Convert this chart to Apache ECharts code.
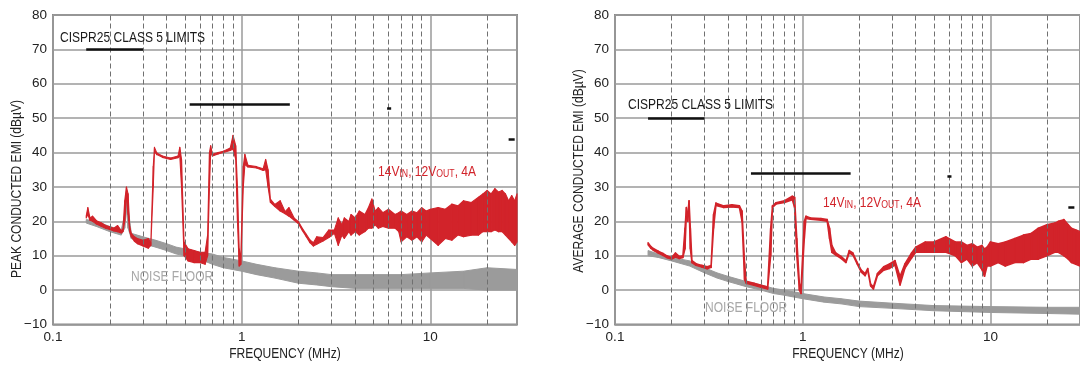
<!DOCTYPE html>
<html>
<head>
<meta charset="utf-8">
<script src="https://cdn.jsdelivr.net/npm/echarts@6/dist/echarts.min.js"></script>
<style>
  html, body { margin: 0; padding: 0; background: #fff; overflow: hidden; }
  #chart { width: 1080px; height: 365px; }
</style>
</head>
<body>
<div id="chart"></div>
<script>
// frequency axis (MHz) minor grid + tick labels
var minorFreqs = [0.2, 0.3, 0.4, 0.5, 0.6, 0.7, 0.8, 0.9, 2, 3, 4, 5, 6, 7, 8, 9, 20];
var yTicks = [-10, 0, 10, 20, 30, 40, 50, 60, 70, 80];

// CISPR25 class 5 limit segments: [fStart, fEnd, level]
var peakLimits = [[0.15, 0.3, 70], [0.53, 1.8, 54], [5.9, 6.2, 53], [26, 28, 44]];
var avgLimits = [[0.15, 0.3, 50], [0.53, 1.8, 34], [5.9, 6.2, 33], [26, 28, 24]];

// peak EMI, 14Vin 12Vout 4A  (low / high edge of the trace)
var peakFreq = [0.15, 0.153, 0.157, 0.162, 0.17, 0.18, 0.19, 0.2, 0.21, 0.22, 0.23, 0.235, 0.24, 0.245, 0.25, 0.255, 0.26, 0.27, 0.28, 0.3, 0.32, 0.33,
  0.34, 0.345, 0.355, 0.38, 0.42, 0.46, 0.47, 0.48, 0.495, 0.52, 0.56, 0.6, 0.64, 0.66, 0.675, 0.685, 0.7, 0.75, 0.8, 0.87, 0.9, 0.93, 0.95, 0.97, 0.99,
  1.02, 1.04, 1.08, 1.2, 1.3, 1.34, 1.38, 1.42, 1.5, 1.6, 1.7, 1.78, 1.9, 2.0, 2.1, 2.2, 2.3, 2.4, 2.5, 2.7, 2.9, 3.1,
  3.25, 3.4, 3.5, 3.7, 3.8, 4.0, 4.2, 4.5, 4.7, 4.9, 5.1, 5.3, 5.6, 6.0, 6.5, 6.8, 7.0, 7.5, 8.0, 8.5, 9.0, 9.5, 10, 11, 12, 13, 14, 15, 16.5,
  18, 19, 20, 21, 22, 23, 24, 25, 26, 27, 28, 28.8];
var peakLo = [21, 22, 20.3, 20, 19.2, 18.6, 18, 17.6, 17.2, 17, 16.6, 17, 20, 27, 22, 17, 15.5, 14.2, 13.5, 12.8, 12.2, 13,
  30, 40.3, 39.4, 38.6, 38, 38.5, 39, 30, 10, 8.5, 8, 8, 7.5, 10, 30, 40, 39, 39.6, 40, 40.6, 41, 38, 20, 7, 7.5,
  30, 36.5, 35.8, 35.5, 34.8, 35, 30, 25.5, 24.3, 23, 22.2, 21.5, 20.3, 19.3, 17.3, 15.5, 13.8, 12.8, 13.3, 14.3, 15.3, 16.5,
  13, 16, 15, 17, 16, 17, 16, 17, 18, 18, 19, 18, 18.5, 18, 18, 17, 14, 15.5, 14.5, 15.5, 14, 16, 15, 13, 15, 14.5, 16, 15.5, 16,
  16, 17, 17, 17, 17.5, 17, 17, 16, 15, 14, 13, 14];
var peakHi = [21.6, 24, 21, 21.5, 20.2, 19.6, 18.8, 18.4, 18, 18.8, 17.3, 17.8, 26, 30, 28, 18.5, 16.5, 15.5, 15, 14.5, 15, 13.8,
  36, 41.5, 39.9, 39, 38.4, 39, 41.5, 38, 14, 12, 11.5, 11, 11, 16, 40, 42, 39.5, 40, 40.4, 41.3, 45, 42, 30, 12, 10,
  36, 39.5, 36.3, 35.9, 35.3, 38, 35, 26.5, 24.9, 26, 22.8, 24, 20.9, 19.9, 17.9, 16.2, 14.6, 13.8, 15.5, 15.3, 17.5, 17.5,
  21, 19, 21, 20, 22, 21, 23, 22, 24, 26.5, 23, 24, 22.5, 23.5, 22, 22.5, 23, 22, 23, 22.5, 24, 23, 23.5, 24, 23.5, 25, 24.5, 26, 25.5,
  27, 28, 29, 28, 29.5, 28.5, 29, 28, 26, 27.5, 26, 28];

// peak noise floor
var peakNoiseFreq = [0.15, 0.17, 0.2, 0.23, 0.24, 0.245, 0.25, 0.26, 0.3, 0.35, 0.4, 0.45, 0.5, 0.6, 0.7, 0.8, 1.0, 1.2, 1.5, 2, 2.5, 3, 4, 5, 7, 10, 15, 20, 28.8];
var peakNoiseLo = [19.5, 18.5, 17, 16, 18, 24, 18, 15, 13.5, 12.5, 11.5, 10.5, 10, 9, 7.5, 6.5, 5.5, 4.5, 3.5, 2, 1.5, 1, 0.5, 0.5, 0.5, 0.5, 0.5, 0, 0];
var peakNoiseHi = [20.5, 20, 18.5, 17.5, 22, 28, 24, 16.5, 15.5, 14.5, 13.5, 12.5, 12, 11, 10.5, 9.5, 8.5, 7.5, 6.5, 5.5, 5, 4.5, 4.5, 4.5, 4.5, 5, 5.5, 6.5, 6];

// average EMI, 14Vin 12Vout 4A
var avgFreq = [0.15, 0.155, 0.16, 0.17, 0.18, 0.19, 0.2, 0.21, 0.22, 0.23, 0.236, 0.24, 0.244, 0.248, 0.252, 0.257, 0.27, 0.29, 0.31, 0.325,
  0.335, 0.345, 0.38, 0.42, 0.46, 0.475, 0.49, 0.5, 0.55, 0.6, 0.65, 0.675, 0.69, 0.72, 0.8, 0.88, 0.905, 0.93, 0.96, 0.98,
  1.02, 1.04, 1.1, 1.25, 1.35, 1.39, 1.43, 1.5, 1.6, 1.7, 1.77, 1.85, 1.95, 2.05, 2.15, 2.22, 2.3, 2.38, 2.5, 2.7, 2.9, 3.1, 3.3, 3.5, 3.8,
  4.0, 4.5, 5, 5.8, 6.5, 7, 7.5, 8, 8.5, 9, 9.3, 9.6, 10, 11, 12, 13.5, 15, 16.5, 18, 20, 22, 23, 24.6, 26, 27, 28.5, 30];
var avgLo = [13.2, 12.2, 11.6, 10.8, 10.1, 9.4, 9, 9.6, 9.2, 9.5, 12, 22, 20, 24, 12, 8, 7.2, 6.7, 6.2, 6.6,
  18, 24.6, 24, 24.2, 24, 20, 3, 2, 1.4, 0.8, 0.3, 10, 24, 25, 25.5, 26.3, 24, 10, 0, -1,
  15, 20.8, 20.6, 20.3, 20, 15, 11, 10.2, 9.2, 8, 10.8, 10.2, 7.6, 5.2, 4.2, 5.7, 1.2, 0.3, 4.2, 5.8, 6.3, 7.3, 1.5, 6.3, 9.3,
  11, 11, 11, 11, 10, 8, 9, 7, 8, 6, 4, 7, 7, 8, 7, 8, 8, 9, 9, 10, 11, 11, 10, 9, 8, 7.5, 7];
var avgHi = [13.8, 12.7, 12.1, 11.3, 10.7, 9.9, 9.5, 10.8, 9.8, 10, 18, 24, 22, 26, 18, 8.6, 7.7, 7.2, 6.8, 7.2,
  22, 25.3, 24.5, 24.8, 24.5, 23, 8, 2.6, 2, 1.4, 0.9, 18, 24.5, 25.4, 26, 27.3, 27, 15, 2, 1,
  20, 21.5, 21, 20.8, 20.5, 18, 13, 10.8, 9.8, 8.5, 11.5, 10.8, 8.1, 5.8, 4.8, 6.3, 1.8, 1, 4.8, 6.8, 7.6, 8.6, 4, 7.6, 10.8,
  12.5, 14, 14, 15.5, 14, 14, 13, 13.5, 12.5, 13, 12, 12.5, 14, 13.5, 14, 15, 16, 16.5, 18, 19, 19.5, 20, 20.5, 19, 18, 17.5, 17];

// average noise floor
var avgNoiseFreq = [0.15, 0.17, 0.2, 0.25, 0.3, 0.35, 0.4, 0.5, 0.6, 0.7, 0.8, 1.0, 1.3, 1.6, 2, 3, 5, 10, 20, 30];
var avgNoiseLo = [10, 9.5, 8.5, 7, 5, 3.5, 2.5, 1, 0, -1, -1.5, -2.5, -3.5, -4, -4.8, -5.3, -6, -6.5, -6.8, -7];
var avgNoiseHi = [11.5, 10.5, 9.5, 8.5, 6.5, 5, 4, 2.5, 1.5, 0.5, 0, -1, -2, -2.5, -3.2, -3.8, -4.5, -4.8, -5, -5];

var RED = '#d2232a';
var GRAY = '#9b9b9b';
var GRID_C = '#9a9a9a';
var FONT = '"Liberation Sans", Arial, sans-serif';
var NARROW_X = 0.83;

// band between lo and hi edges, one quad per segment
function trace(idx, f, lo, hi, color, width) {
  var segs = [];
  for (var i = 0; i < f.length - 1; i++) {
    segs.push([f[i], lo[i], hi[i], f[i + 1], lo[i + 1], hi[i + 1]]);
  }
  return {
    type: 'custom', xAxisIndex: idx, yAxisIndex: idx, z: 3, silent: true,
    data: segs,
    encode: { x: [0, 3], y: [1, 2, 4, 5] },
    renderItem: function (params, api) {
      var a = api.coord([api.value(0), api.value(1)]);
      var b = api.coord([api.value(0), api.value(2)]);
      var c = api.coord([api.value(3), api.value(5)]);
      var d = api.coord([api.value(3), api.value(4)]);
      return {
        type: 'polygon',
        shape: { points: [a, b, c, d] },
        style: { fill: color, stroke: color, lineWidth: width, lineJoin: 'round' }
      };
    }
  };
}

function guides(idx, limits) {
  return {
    type: 'line', xAxisIndex: idx, yAxisIndex: idx, z: 1, silent: true,
    data: [[1, -50]], symbol: 'none', lineStyle: { opacity: 0 },
    markLine: {
      silent: true, symbol: 'none', animation: false,
      label: { show: false },
      data: minorFreqs.map(function (v) {
        return { xAxis: v, lineStyle: { color: '#707070', width: 1, type: [5, 3] } };
      }).concat(limits.map(function (s) {
        return [{ coord: [s[0], s[2]], lineStyle: { color: '#111', width: 2.5, type: 'solid' } },
                { coord: [s[1], s[2]] }];
      }))
    }
  };
}

function xAxis(idx, max) {
  return {
    type: 'log', gridIndex: idx, logBase: 10, min: 0.1, max: max,
    axisLine: { show: false }, axisTick: { show: false },
    axisLabel: { fontFamily: FONT, fontSize: 13.5, color: '#222', margin: 6, showMaxLabel: false,
      formatter: function (v) { return String(+v.toPrecision(3)); } },
    splitLine: { show: true, lineStyle: { color: GRID_C, width: 1.5 } }
  };
}

function yAxis(idx) {
  return {
    type: 'value', gridIndex: idx, min: yTicks[0], max: yTicks[yTicks.length - 1], interval: 10,
    axisLine: { show: false }, axisTick: { show: false },
    axisLabel: { fontFamily: FONT, fontSize: 13.5, color: '#222', margin: 6,
      formatter: function (v) { return v < 0 ? '\u2212' + (-v) : String(v); } },
    splitLine: { show: true, lineStyle: { color: GRID_C, width: 1.5 } }
  };
}

function label(x, y, text, color, opts) {
  opts = opts || {};
  return {
    type: 'text', x: x, y: y, rotation: opts.rotate ? Math.PI / 2 : 0, scaleX: NARROW_X, z: 10, silent: true,
    style: { text: text, fill: color, font: '14.5px ' + FONT,
      textAlign: opts.align || 'left', textVerticalAlign: 'middle' }
  };
}

function condLabel(x, y) {
  return {
    type: 'text', x: x, y: y, z: 10, silent: true, scaleX: NARROW_X,
    style: {
      text: '{m|14V}{s|IN}{m|, 12V}{s|OUT}{m|, 4A}',
      textVerticalAlign: 'middle', fill: RED,
      rich: {
        m: { fontFamily: FONT, fontSize: 14.5, color: RED, lineHeight: 16 },
        s: { fontFamily: FONT, fontSize: 10.5, color: RED, lineHeight: 8, verticalAlign: 'bottom' }
      }
    }
  };
}

var chart = echarts.init(document.getElementById('chart'), null, { renderer: 'canvas' });
chart.setOption({
  animation: false,
  backgroundColor: '#fff',
  grid: [
    { left: 53, top: 15, width: 464, height: 309.5, show: true, borderColor: '#8a8a8a', borderWidth: 2, backgroundColor: 'transparent' },
    { left: 615, top: 15, width: 467.5, height: 309.5, show: true, borderColor: '#8a8a8a', borderWidth: 2, backgroundColor: 'transparent' }
  ],
  xAxis: [xAxis(0, 28.8), xAxis(1, 30)],
  yAxis: [yAxis(0), yAxis(1)],
  series: [
    guides(0, peakLimits), guides(1, avgLimits),
    trace(0, peakNoiseFreq, peakNoiseLo, peakNoiseHi, GRAY, 1),
    trace(0, peakFreq, peakLo, peakHi, RED, 1.1),
    trace(1, avgNoiseFreq, avgNoiseLo, avgNoiseHi, GRAY, 1),
    trace(1, avgFreq, avgLo, avgHi, RED, 1.5)
  ],
  graphic: [
    label(17, 189, 'PEAK CONDUCTED EMI (dB\u00b5V)', '#222', { rotate: true, align: 'center' }),
    label(579, 171, 'AVERAGE CONDUCTED EMI (dB\u00b5V)', '#222', { rotate: true, align: 'center' }),
    label(285, 354, 'FREQUENCY (MHz)', '#222', { align: 'center' }),
    label(848, 354, 'FREQUENCY (MHz)', '#222', { align: 'center' }),
    label(60, 38, 'CISPR25 CLASS 5 LIMITS', '#1a1a1a'),
    label(628, 105, 'CISPR25 CLASS 5 LIMITS', '#1a1a1a'),
    label(131, 277, 'NOISE FLOOR', '#a8a8a8'),
    label(705, 308, 'NOISE FLOOR', '#a8a8a8'),
    condLabel(378, 172),
    condLabel(823, 203)
  ]
});
</script>
</body>
</html>
